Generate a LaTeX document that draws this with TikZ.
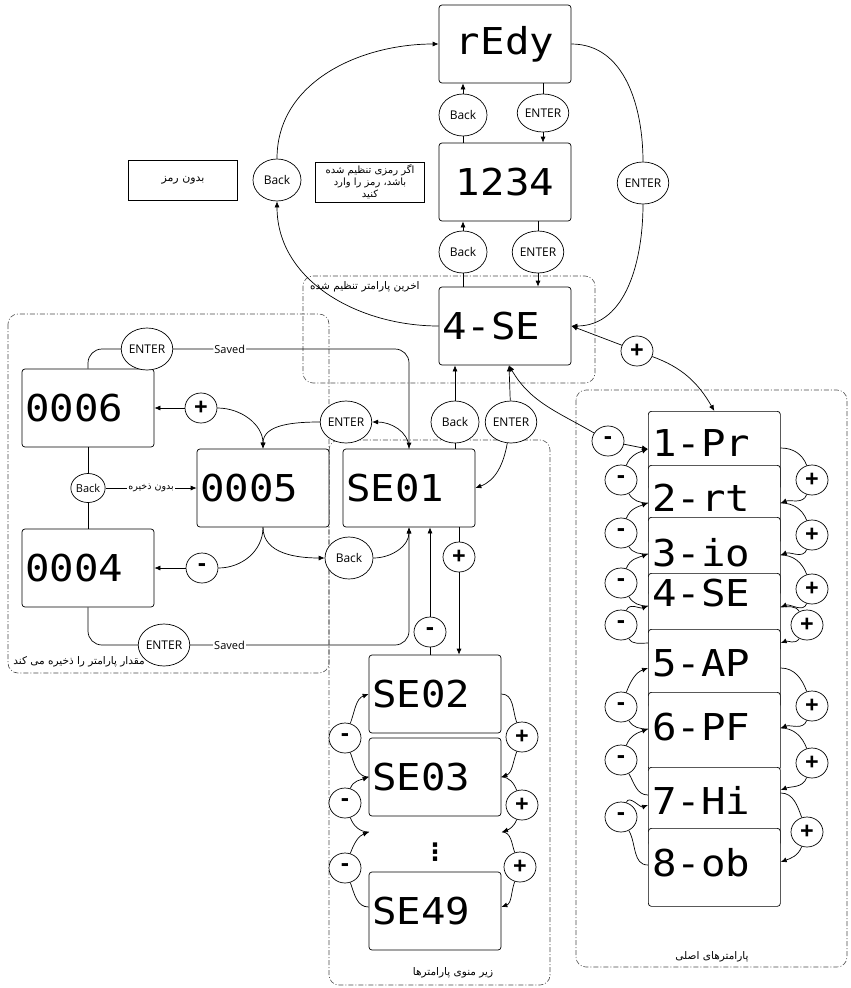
\documentclass[tikz,border=0pt]{standalone}
\usepackage{fontspec}
\setmainfont{Open Sans}
\newfontfamily\segfont[FakeStretch=1.1]{DejaVu Sans Mono}
\newfontfamily\symfont{DejaVu Sans}
\newfontfamily\persianfont[Script=Arabic]{DejaVu Sans}
\TeXXeTstate=1
\usepackage{tikz}
\usetikzlibrary{positioning, shapes.geometric, arrows.meta, calc}
\definecolor{menugray}{HTML}{4A4A4A}
\newcommand{\fa}[1]{{\persianfont\beginR #1\endR}}

\begin{document}
\begin{tikzpicture}[
  x=1pt, y=-1pt, line width=0.7pt,
  lcd/.style={draw, rounded corners=3pt, fill=white, minimum width=132pt, minimum height=78pt, inner sep=0pt, font=\segfont\fontsize{37}{40}\selectfont},
  lcdl/.style={lcd, text width=126pt, align=left},
  lcdbox/.style={draw, rounded corners=3pt, fill=white, minimum width=132pt, minimum height=78pt, inner sep=0pt, anchor=north west},
  lcdtxt/.style={inner sep=0pt, anchor=west, font=\segfont\fontsize{37}{40}\selectfont},
  key/.style={ellipse, draw, fill=white, minimum width=48pt, minimum height=42pt, inner sep=0pt, font=\fontsize{12}{13}\selectfont},
  smallkey/.style={key, minimum width=33pt, minimum height=29pt, font=\fontsize{11}{12}\selectfont},
  pm/.style={ellipse, draw, fill=white, minimum width=32pt, minimum height=30pt, inner sep=0pt, font=\bfseries\fontsize{24}{24}\selectfont},
  note/.style={draw, fill=white, inner sep=0pt, minimum width=109pt, minimum height=40pt, align=center, font=\persianfont\fontsize{10}{12}\selectfont},
  grp/.style={draw=menugray, line width=0.6pt, dash pattern=on 5pt off 2pt on 1pt off 2pt, rounded corners=10pt},
  grptitle/.style={inner sep=1pt, font=\persianfont\fontsize{10.5}{12}\selectfont},
  lbl/.style={fill=white, inner sep=1pt, font=\fontsize{11}{12}\selectfont},
  arrow/.style={-{Latex[length=6pt, width=5pt]}},
]
\useasboundingbox (0,0) rectangle (851,988);

% groups
\draw[grp] (303,276) rectangle (595,383);
\draw[grp] (8,314) rectangle (329,673);
\draw[grp] (329,440) rectangle (550,985);
\draw[grp] (576,390) rectangle (847,967);
\node[grptitle, anchor=east] (lastTitle) at (421,287) {\fa{اخرین پارامتر تنظیم شده}};
\node[grptitle, anchor=west] (saveTitle) at (12,662) {\fa{مقدار پارامتر را ذخیره می کند}};
\node[grptitle] (subTitle) at (453,973) {\fa{زیر منوی پارامترها}};
\node[grptitle] (mainTitle) at (712,957) {\fa{پارامترهای اصلی}};

% top column
\node[lcd] (rEdy) at (505,44) {rEdy};
\node[lcd] (n1234) at (505,182) {1234};
\node[lcdl] (n4se) at (505,326) {4-SE};
\node[key] (bkTop1) at (463,115) {Back};
\node[key, minimum width=46pt, minimum height=38pt] (enTop1) at (543,113) {ENTER};
\node[key] (bkTop2) at (463,252) {Back};
\node[key] (enTop2) at (538,252) {ENTER};
\node[key] (bkLeft) at (277,180) {Back};
\node[key, minimum width=46pt] (enRight) at (643,183) {ENTER};
\node[note, font=\persianfont\fontsize{11}{12}\selectfont] (noPass) at (183,180) {\fa{بدون رمز}};
\node[note] (withPass) at (370,182) {\fa{اگر رمزی تنظیم شده}\\\fa{باشد، رمز را وارد}\\\fa{کنید}};
\coordinate (se4in) at ($(n4se.south)+(4,0)$);

% value editing
\node[lcdl] (n0006) at (88,408) {0006};
\node[lcdl] (n0005) at (263,488) {0005};
\node[lcdl] (n0004) at (88,568) {0004};
\node[lcdl] (se01) at (409,488) {SE01};
\node[key] (enSave1) at (147,349) {ENTER};
\node[key] (enEdit) at (346,422) {ENTER};
\node[smallkey] (bkNoSave) at (88,488) {Back};
\node[key] (bkEdit) at (349,558) {Back};
\node[key] (enSave2) at (164,645) {ENTER};
\node[pm] (plEdit) at (201,408) {+};
\node[pm] (mnEdit) at (202,568) {-};
\node[key] (bkSub) at (455,422) {Back};
\node[key] (enSub) at (511,422) {ENTER};
\node[pm] (plSub) at (459,557) {+};
\node[pm] (mnSub) at (430,632) {-};

% sub menu
\node[lcdl] (se02) at (435,694) {SE02};
\node[lcdl] (se03) at (435,777) {SE03};
\node[font=\symfont\bfseries\fontsize{24}{24}\selectfont, inner sep=0pt] (dots) at (435,852) {⋮};
\node[lcdl] (se49) at (435,911) {SE49};
\coordinate (gapL) at (369,832);
\coordinate (gapR) at (502,832);
\node[pm] (mnS1) at (345,738) {-};
\node[pm] (mnS2) at (345,803) {-};
\node[pm] (mnS3) at (345,868) {-};
\node[pm] (plS1) at (522,737) {+};
\node[pm] (plS2) at (522,805) {+};
\node[pm] (plS3) at (520,867) {+};

% main parameters
\node[lcdbox] (p1) at (648,411) {};
\node[lcdtxt] (p1t) at (652,443) {1-Pr};
\node[lcdbox] (p2) at (648,465) {};
\node[lcdtxt] (p2t) at (652,498) {2-rt};
\node[lcdbox] (p3) at (648,517) {};
\node[lcdtxt] (p3t) at (652,553) {3-io};
\node[lcdbox] (p4) at (648,573) {};
\node[lcdtxt] (p4t) at (652,593) {4-SE};
\node[lcdbox] (p5) at (648,629) {};
\node[lcdtxt] (p5t) at (652,663) {5-AP};
\node[lcdbox] (p6) at (648,692) {};
\node[lcdtxt] (p6t) at (652,727) {6-PF};
\node[lcdbox] (p7) at (648,767) {};
\node[lcdtxt] (p7t) at (652,800) {7-Hi};
\node[lcdbox] (p8) at (648,828) {};
\node[lcdtxt] (p8t) at (652,863) {8-ob};
\node[pm] (pl0) at (637,351) {+};
\node[pm] (mn0) at (608,441) {-};
\node[pm] (pl1) at (812,480) {+};
\node[pm] (pl2) at (812,535) {+};
\node[pm] (pl3) at (812,589) {+};
\node[pm] (pl4) at (807,625) {+};
\node[pm] (pl5) at (812,706) {+};
\node[pm] (pl6) at (812,763) {+};
\node[pm] (pl7) at (807,832) {+};
\node[pm] (mn1) at (621,480) {-};
\node[pm] (mn2) at (621,533) {-};
\node[pm] (mn3) at (621,583) {-};
\node[pm] (mn4) at (621,625) {-};
\node[pm] (mn5) at (621,707) {-};
\node[pm] (mn6) at (621,760) {-};
\node[pm] (mn7) at (621,817) {-};

% top connectors
\draw[arrow] (bkTop1) -- (bkTop1 |- rEdy.south);
\draw (bkTop1) -- (bkTop1 |- n1234.north);
\draw (enTop1) -- (enTop1 |- rEdy.south);
\draw[arrow] (enTop1) -- (enTop1 |- n1234.north);
\draw[arrow] (bkTop2) -- (bkTop2 |- n1234.south);
\draw (bkTop2) -- (bkTop2 |- n4se.north);
\draw (enTop2) -- (enTop2 |- n1234.south);
\draw[arrow] (enTop2) -- (enTop2 |- n4se.north);
\draw[arrow] (bkLeft) to[out=90, in=180] (rEdy);
\draw[arrow] (n4se) to[out=180, in=-90] (bkLeft);
\draw (rEdy) to[out=0, in=90] (enRight);
\draw[arrow] (enRight) to[out=-90, in=0] (n4se);
\draw[arrow] (pl0) -- (n4se.east);
\draw[arrow] (pl0) to[out=-20, in=120] (p1.north);
\draw[arrow] (mn0) to[out=150, in=-60] (se4in);
\draw[arrow] (mn0) -- ([yshift=-38]p1.north west);

% editing connectors
\draw[rounded corners=14pt] (n0006.north) |- (enSave1);
\draw[arrow, rounded corners=14pt] (enSave1) -| node[lbl, pos=0.12] {Saved} (se01.north);
\draw[arrow] (se01.north) to[out=90, in=0] (enEdit);
\draw[arrow] (enEdit) to[out=180, in=90] (n0005.north);
\draw[arrow] (plEdit) -- (n0006.east);
\draw[arrow] (plEdit) to[out=0, in=90] (n0005.north);
\draw (n0006) -- (bkNoSave) -- (n0004);
\draw[arrow] (bkNoSave) -- node[lbl, font=\persianfont\fontsize{9.5}{10}\selectfont] {\fa{بدون ذخیره}} (n0005);
\draw[arrow] (mnEdit) -- (n0004.east);
\draw (mnEdit) to[out=0, in=-90] (n0005.south);
\draw[arrow] (n0005.south) to[out=-90, in=180] (bkEdit);
\draw[arrow] (bkEdit) to[out=0, in=-90] (se01.south);
\draw[rounded corners=14pt] (n0004.south) |- (enSave2);
\draw[arrow, rounded corners=14pt] (enSave2) -| node[lbl, pos=0.09] {Saved} (se01.south);
\draw[arrow] (bkSub) -- (bkSub |- n4se.south);
\draw (bkSub) -- (bkSub |- se01.north);
\draw[arrow] (enSub) -- (se4in);
\draw[arrow] (enSub) to[out=-100, in=20] (se01.east);

% sub menu connectors
\draw (se01.south -| plSub) -- (plSub);
\draw[arrow] (plSub) -- (plSub |- se02.north);
\draw (mnSub) -- (mnSub |- se02.north);
\draw[arrow] (mnSub) -- (mnSub |- se01.south);
\draw (se03.west) to[out=180, in=-70] (mnS1);
\draw[arrow] (mnS1) to[out=70, in=200] (se02.west);
\draw (gapL) to[out=180, in=-70] (mnS2);
\draw[arrow] (mnS2) to[out=70, in=200] (se03.west);
\draw ([yshift=4]se49.west) to[out=180, in=-70] (mnS3);
\draw[arrow] (mnS3) to[out=70, in=200] (gapL);
\draw (se02.east) to[out=0, in=110] (plS1);
\draw[arrow] (plS1) to[out=-110, in=20] (se03.east);
\draw (se03.east) to[out=0, in=110] (plS2);
\draw[arrow] (plS2) to[out=-110, in=20] (gapR);
\draw (gapR) to[out=0, in=110] (plS3);
\draw[arrow] (plS3) to[out=-110, in=20] ([yshift=4]se49.east);

% main parameter connectors
\draw ([yshift=-38]p2.north west) to[out=180, in=-60] (mn1);
\draw[arrow] (mn1) to[out=70, in=200] ([yshift=-38]p1.north west);
\draw ([yshift=-37]p3.north west) to[out=180, in=-60] (mn2);
\draw[arrow] (mn2) to[out=70, in=200] ([yshift=-38]p2.north west);
\draw ([yshift=-33]p4.north west) to[out=180, in=-60] (mn3);
\draw[arrow] (mn3) to[out=70, in=200] ([yshift=-37]p3.north west);
\draw ([yshift=-14]p5.north west) to[out=180, in=-60] (mn4);
\draw[arrow] (mn4) to[out=70, in=200] ([yshift=-33]p4.north west);
\draw ([yshift=-37]p6.north west) to[out=180, in=-60] (mn5);
\draw[arrow] (mn5) to[out=70, in=200] ([yshift=-39]p5.north west);
\draw ([yshift=-28]p7.north west) to[out=180, in=-60] (mn6);
\draw[arrow] (mn6) to[out=70, in=200] ([yshift=-37]p6.north west);
\draw ([yshift=-37]p8.north west) to[out=180, in=-60] (mn7);
\draw[arrow] (mn7) to[out=70, in=200] ([yshift=-38]p7.north west);
\draw ([yshift=-37]p1.north east) to[out=0, in=110] (pl1);
\draw[arrow] (pl1) to[out=-110, in=20] ([yshift=-38]p2.north east);
\draw ([yshift=-38]p2.north east) to[out=0, in=110] (pl2);
\draw[arrow] (pl2) to[out=-110, in=20] ([yshift=-38]p3.north east);
\draw ([yshift=-38]p3.north east) to[out=0, in=110] (pl3);
\draw[arrow] (pl3) to[out=-110, in=20] ([yshift=-34]p4.north east);
\draw ([yshift=-34]p4.north east) to[out=0, in=120] (pl4);
\draw[arrow] (pl4) to[out=-120, in=20] ([yshift=-14]p5.north east);
\draw ([yshift=-39]p5.north east) to[out=0, in=110] (pl5);
\draw[arrow] (pl5) to[out=-110, in=20] ([yshift=-36]p6.north east);
\draw ([yshift=-36]p6.north east) to[out=0, in=110] (pl6);
\draw[arrow] (pl6) to[out=-110, in=20] ([yshift=-23]p7.north east);
\draw ([yshift=-26]p7.north east) to[out=0, in=110] (pl7);
\draw[arrow] (pl7) to[out=-110, in=20] ([yshift=-34]p8.north east);
\end{tikzpicture}
\end{document}
